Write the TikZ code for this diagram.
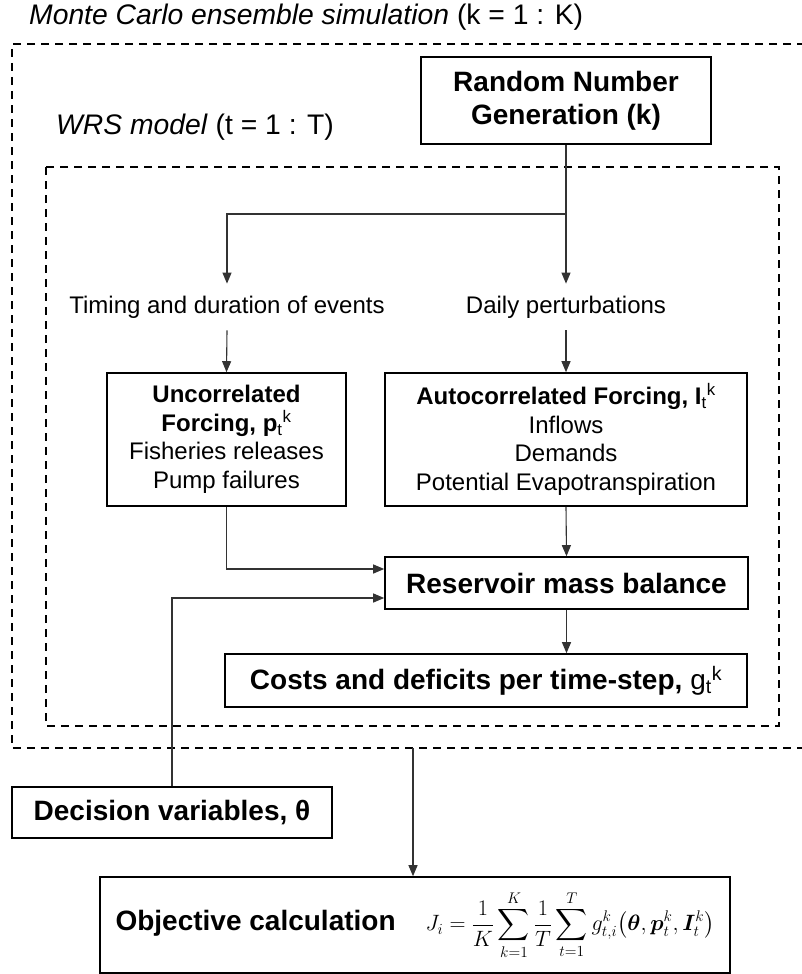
\documentclass[tikz,border=0pt]{standalone}
\usepackage{amsmath}
\usepackage{bm}
\usepackage{fontspec}
\setmainfont{Liberation Sans}
\usetikzlibrary{math,arrows.meta}

\newcommand{\tk}[2]{\textsubscript{#1}\textsuperscript{#2}}

\begin{document}
\begin{tikzpicture}[x=1pt, y=-1pt,
    solidbox/.style={draw, line width=1.6pt, align=center, inner sep=0pt},
    bigtext/.style={font=\fontsize{28}{33}\selectfont\bfseries},
    smalltext/.style={font=\fontsize{24}{28.5}\selectfont},
    titletext/.style={anchor=west, inner sep=0pt, font=\fontsize{28.3}{32}\selectfont},
    flow/.style={line width=1.1pt, draw=black!80, -{Triangle[length=11pt,width=9pt]}},
    mcframe/.style={line width=1.6pt, dash pattern=on 8pt off 6pt}]
  \useasboundingbox (0,0) rectangle (802,974);
  \tikzmath{%
    \ox = 12; \oy = 44; \oby = 748;
    \ix = 46; \iy = 167; \irx = 779; \iby = 726;
  }

  % dashed frames
  \draw[mcframe] (805,\oy) -- (\ox,\oy) -- (\ox,\oby) -- (805,\oby);
  \draw[mcframe] (\ix,\iy) rectangle (\irx,\iby);

  \node[titletext] (mctitle) at (29,17) {\textit{Monte Carlo ensemble simulation} (k = 1 : K)};
  \node[titletext] (wrstitle) at (56,127) {\textit{WRS model} (t = 1 : T)};

  \node[solidbox, bigtext, minimum width=290, minimum height=87] (rng) at (566,100.5)
    {Random Number\\Generation (k)};
  \node[smalltext, inner xsep=0pt, inner ysep=12pt] (timing) at (227,307) {Timing and duration of events};
  \node[smalltext, inner xsep=0pt, inner ysep=12pt] (daily) at (566,307) {Daily perturbations};
  \node[solidbox, smalltext, minimum width=239, minimum height=133] (unc) at (226.5,439.5)
    {\textbf{Uncorrelated}\\\textbf{Forcing, p}\tk{t}{k}\\Fisheries releases\\Pump failures};
  \node[solidbox, smalltext, minimum width=362, minimum height=133] (auto) at (566,439.5)
    {\textbf{Autocorrelated Forcing, I}\tk{t}{k}\\Inflows\\Demands\\Potential Evapotranspiration};
  \node[solidbox, bigtext, minimum width=363, minimum height=52] (res) at (566.5,583) {Reservoir mass balance};
  \node[solidbox, bigtext, minimum width=522, minimum height=53] (cost) at (486,680.5)
    {Costs and deficits per time-step, {\mdseries g\tk{t}{k}}};
  \node[solidbox, bigtext, minimum width=320, minimum height=51] (dec) at (172,812.5) {Decision variables, θ};
  \node[solidbox, bigtext, minimum width=630, minimum height=96] (obj) at (415,925)
    {Objective calculation\hspace{30pt}\scalebox{1.07}{\fontsize{20.74}{25}\selectfont$\displaystyle
      J_i=\frac{1}{K}\sum_{k=1}^{K}\frac{1}{T}\sum_{t=1}^{T}g_{t,i}^{k}\bigl(\bm{\theta},\bm{p}_t^k,\bm{I}_t^k\bigr)$}};

  \coordinate (split) at (566,214);
  \coordinate (mcout) at (413,\oby);

  % connectors
  \draw[line width=1.1pt, draw=black!80] (rng.south) -- (split);
  \draw[flow] (split) -- (daily.north);
  \draw[flow] (split) -| (timing.north);
  \draw[flow] (timing.south) -- (unc.north);
  \draw[flow] (daily.south) -- (auto.north);
  \draw[flow] (unc.south) |- ([yshift=14pt]res.west);
  \draw[flow] (dec.north) |- ([yshift=-15pt]res.west);
  \draw[flow] (auto.south) -- (res.north);
  \draw[flow] (res.south) -- (res.south |- cost.north);
  \draw[flow] (mcout) -- (mcout |- obj.north);
\end{tikzpicture}
\end{document}
